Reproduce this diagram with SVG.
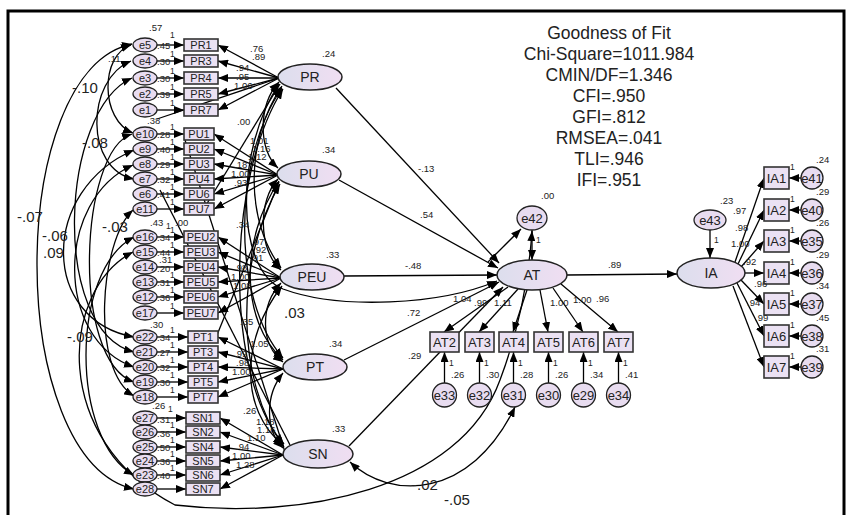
<svg xmlns="http://www.w3.org/2000/svg" width="848" height="515" viewBox="0 0 848 515">
<defs>
<linearGradient id="g" x1="0" y1="0" x2="1" y2="0"><stop offset="0" stop-color="#dcdeed"/><stop offset="1" stop-color="#f0def2"/></linearGradient>
<marker id="ah" viewBox="0 0 10 8" refX="10" refY="4" markerWidth="10" markerHeight="8" markerUnits="userSpaceOnUse" orient="auto-start-reverse"><path d="M0,0 L10,4 L0,8 z" fill="#000"/></marker>
<style>
.c{fill:none;stroke:#000;stroke-width:1.3}
.l{fill:none;stroke:#000;stroke-width:1.3;marker-end:url(#ah)}
.d{fill:none;stroke:#000;stroke-width:1.3;marker-start:url(#ah);marker-end:url(#ah)}
.box{fill:#ebe1f3;stroke:#333;stroke-width:1.6}
.lat{fill:url(#g);stroke:#222;stroke-width:1.5}
.err{fill:#e8dcf0;stroke:#222;stroke-width:1.3}
text{font-family:"Liberation Sans",Arial,sans-serif;fill:#222}
.s{font-size:11px;text-anchor:middle}
.n{font-size:9.5px}
.o{font-size:8.5px}
.m{font-size:14px;text-anchor:middle}
.b{font-size:15px}
.fit{font-size:17.5px;text-anchor:middle}
</style>
</defs>
<rect x="8" y="11" width="836" height="520" fill="#fff" stroke="#000" stroke-width="3"/>

<g id="connectors">
<path class="d" d="M131,45 C100,55 100,120 133,133"/>
<path class="d" d="M131,61 C85,80 85,170 134,179"/>
<path class="d" d="M132,78 C60,110 50,330 134,352"/>
<path class="d" d="M132,44 C5,70 5,460 134,489"/>
<path class="d" d="M132,134 C80,150 70,360 134,382"/>
<path class="d" d="M134,150 C40,190 40,320 134,337"/>
<path class="d" d="M133,165 C55,200 55,340 134,367"/>
<path class="d" d="M133,210 C100,240 90,370 134,396"/>
<path class="d" d="M134,237 C70,270 70,440 134,475"/>
<path class="d" d="M133,252 C60,290 50,440 175,505 C300,520 460,490 500,380 C515,340 528,290 532,231"/>
<path class="c" d="M279,78 L157,119"/>
<path class="c" d="M280,84 L200,215"/>
<path class="c" d="M160,190 L290,445"/>
<path class="c" d="M185,140 L285,452"/>
<path class="c" d="M279,182 L215,340"/>
<path class="d" d="M279,82 C258,105 258,150 278,168"/>
<path class="d" d="M278,179 C258,200 258,250 281,270"/>
<path class="d" d="M281,283 C260,305 260,345 283,362"/>
<path class="d" d="M283,373 C265,395 265,430 283,448"/>
<path class="d" d="M282,86 C245,140 245,220 281,268"/>
<path class="d" d="M279,181 C240,240 240,320 283,360"/>
<path class="d" d="M282,286 C240,340 240,410 283,445"/>
<path class="d" d="M282,88 C232,160 232,300 283,358"/>
<path class="d" d="M283,89 C225,180 225,380 284,444"/>
<path class="d" d="M280,184 C235,260 235,380 284,447"/>
<path class="d" d="M279,84 C235,150 235,270 283,289 C340,310 440,305 497,281"/>
<path class="l" d="M157,45 H184"/><path class="l" d="M157,61 H184"/><path class="l" d="M157,78 H184"/><path class="l" d="M157,94 H184"/><path class="l" d="M157,110 H184"/>
<path class="l" d="M157,134 H184"/><path class="l" d="M157,149 H184"/><path class="l" d="M157,164 H184"/><path class="l" d="M157,179 H184"/><path class="l" d="M157,194 H184"/><path class="l" d="M157,209 H184"/>
<path class="l" d="M157,237 H184"/><path class="l" d="M157,252 H184"/><path class="l" d="M157,267 H184"/><path class="l" d="M157,282 H184"/><path class="l" d="M157,297 H184"/><path class="l" d="M157,313 H184"/>
<path class="l" d="M157,337 H188"/><path class="l" d="M157,352 H188"/><path class="l" d="M157,367 H188"/><path class="l" d="M157,382 H188"/><path class="l" d="M157,397 H188"/>
<path class="l" d="M157,418 H186"/><path class="l" d="M157,432 H186"/><path class="l" d="M157,447 H186"/><path class="l" d="M157,461 H186"/><path class="l" d="M157,475 H186"/><path class="l" d="M157,489 H186"/>
<path class="l" d="M279,78 L218,45"/><path class="l" d="M279,78 L218,61"/><path class="l" d="M279,78 L218,78"/><path class="l" d="M279,78 L218,94"/><path class="l" d="M279,78 L218,110"/>
<path class="l" d="M278,175 L214,134"/><path class="l" d="M278,175 L214,149"/><path class="l" d="M278,175 L214,164"/><path class="l" d="M278,175 L214,179"/><path class="l" d="M278,175 L214,194"/><path class="l" d="M278,175 L214,209"/>
<path class="l" d="M281,278 L218,237"/><path class="l" d="M281,278 L218,252"/><path class="l" d="M281,278 L218,267"/><path class="l" d="M281,278 L218,282"/><path class="l" d="M281,278 L218,297"/><path class="l" d="M281,278 L218,313"/>
<path class="l" d="M283,369 L218,337"/><path class="l" d="M283,369 L218,352"/><path class="l" d="M283,369 L218,367"/><path class="l" d="M283,369 L218,382"/><path class="l" d="M283,369 L218,397"/>
<path class="l" d="M283,455 L220,418"/><path class="l" d="M283,455 L220,432"/><path class="l" d="M283,455 L220,447"/><path class="l" d="M283,455 L220,461"/><path class="l" d="M283,455 L220,475"/><path class="l" d="M283,455 L220,489"/>
<path class="l" d="M336,88 L499,263"/>
<path class="l" d="M339,180 L498,268"/>
<path class="l" d="M344,276 L497,275"/>
<path class="l" d="M344,360 L499,282"/>
<path class="l" d="M349,446 L503,287"/>
<path class="l" d="M532,230 L532,260"/>
<path class="l" d="M488,262 L521,229"/>
<path class="l" d="M567,275 L677,274"/>
<path class="l" d="M710,230 L710,258"/>
<path class="d" d="M350,462 C390,500 470,500 515,407"/>
<path class="l" d="M508,287 L444,332"/><path class="l" d="M518,289 L479,332"/><path class="l" d="M527,290 L513,332"/><path class="l" d="M540,290 L548,332"/><path class="l" d="M553,288 L583,332"/><path class="l" d="M561,284 L618,332"/>
<path class="l" d="M444.5,383 V352"/><path class="l" d="M479.5,383 V352"/><path class="l" d="M513.5,383 V352"/><path class="l" d="M548.5,383 V352"/><path class="l" d="M583.5,383 V352"/><path class="l" d="M618.5,383 V352"/>
<path class="l" d="M735,262 L764,178"/><path class="l" d="M738,264 L764,210"/><path class="l" d="M741,267 L764,241"/><path class="l" d="M745,273 L764,273"/><path class="l" d="M741,280 L764,304"/><path class="l" d="M737,283 L764,336"/><path class="l" d="M733,286 L764,367"/>
<path class="l" d="M801,178 H789"/><path class="l" d="M801,210 H789"/><path class="l" d="M801,241 H789"/><path class="l" d="M801,273 H789"/><path class="l" d="M801,304 H789"/><path class="l" d="M801,336 H789"/><path class="l" d="M801,367 H789"/>
</g>

<g id="labels-behind">
<text class="n" x="747" y="306">.94</text>
</g>

<g id="e5"><ellipse class="err" cx="145" cy="45" rx="12" ry="7"/><text class="s" x="145" y="49">e5</text></g>
<g id="e4"><ellipse class="err" cx="145" cy="61" rx="12" ry="7"/><text class="s" x="145" y="65">e4</text></g>
<g id="e3"><ellipse class="err" cx="145" cy="78" rx="12" ry="7"/><text class="s" x="145" y="82">e3</text></g>
<g id="e2"><ellipse class="err" cx="145" cy="94" rx="12" ry="7"/><text class="s" x="145" y="98">e2</text></g>
<g id="e1"><ellipse class="err" cx="145" cy="110" rx="12" ry="7"/><text class="s" x="145" y="114">e1</text></g>
<g id="e10"><ellipse class="err" cx="145" cy="134" rx="12" ry="7"/><text class="s" x="145" y="138">e10</text></g>
<g id="e9"><ellipse class="err" cx="145" cy="149" rx="12" ry="7"/><text class="s" x="145" y="153">e9</text></g>
<g id="e8"><ellipse class="err" cx="145" cy="164" rx="12" ry="7"/><text class="s" x="145" y="168">e8</text></g>
<g id="e7"><ellipse class="err" cx="145" cy="179" rx="12" ry="7"/><text class="s" x="145" y="183">e7</text></g>
<g id="e6"><ellipse class="err" cx="145" cy="194" rx="12" ry="7"/><text class="s" x="145" y="198">e6</text></g>
<g id="e11"><ellipse class="err" cx="145" cy="209" rx="12" ry="7"/><text class="s" x="145" y="213">e11</text></g>
<g id="e16"><ellipse class="err" cx="145" cy="237" rx="12" ry="7"/><text class="s" x="145" y="241">e16</text></g>
<g id="e15"><ellipse class="err" cx="145" cy="252" rx="12" ry="7"/><text class="s" x="145" y="256">e15</text></g>
<g id="e14"><ellipse class="err" cx="145" cy="267" rx="12" ry="7"/><text class="s" x="145" y="271">e14</text></g>
<g id="e13"><ellipse class="err" cx="145" cy="282" rx="12" ry="7"/><text class="s" x="145" y="286">e13</text></g>
<g id="e12"><ellipse class="err" cx="145" cy="297" rx="12" ry="7"/><text class="s" x="145" y="301">e12</text></g>
<g id="e17"><ellipse class="err" cx="145" cy="313" rx="12" ry="7"/><text class="s" x="145" y="317">e17</text></g>
<g id="e22"><ellipse class="err" cx="145" cy="337" rx="12" ry="7"/><text class="s" x="145" y="341">e22</text></g>
<g id="e21"><ellipse class="err" cx="145" cy="352" rx="12" ry="7"/><text class="s" x="145" y="356">e21</text></g>
<g id="e20"><ellipse class="err" cx="145" cy="367" rx="12" ry="7"/><text class="s" x="145" y="371">e20</text></g>
<g id="e19"><ellipse class="err" cx="145" cy="382" rx="12" ry="7"/><text class="s" x="145" y="386">e19</text></g>
<g id="e18"><ellipse class="err" cx="145" cy="397" rx="12" ry="7"/><text class="s" x="145" y="401">e18</text></g>
<g id="e27"><ellipse class="err" cx="145" cy="418" rx="12" ry="7"/><text class="s" x="145" y="422">e27</text></g>
<g id="e26"><ellipse class="err" cx="145" cy="432" rx="12" ry="7"/><text class="s" x="145" y="436">e26</text></g>
<g id="e25"><ellipse class="err" cx="145" cy="447" rx="12" ry="7"/><text class="s" x="145" y="451">e25</text></g>
<g id="e24"><ellipse class="err" cx="145" cy="461" rx="12" ry="7"/><text class="s" x="145" y="465">e24</text></g>
<g id="e23"><ellipse class="err" cx="145" cy="475" rx="12" ry="7"/><text class="s" x="145" y="479">e23</text></g>
<g id="e28"><ellipse class="err" cx="145" cy="489" rx="12" ry="7"/><text class="s" x="145" y="493">e28</text></g>

<g id="PR1"><rect class="box" x="184" y="39" width="34" height="12"/><text class="s" x="201" y="49">PR1</text></g>
<g id="PR3"><rect class="box" x="184" y="55" width="34" height="12"/><text class="s" x="201" y="65">PR3</text></g>
<g id="PR4"><rect class="box" x="184" y="72" width="34" height="12"/><text class="s" x="201" y="82">PR4</text></g>
<g id="PR5"><rect class="box" x="184" y="88" width="34" height="12"/><text class="s" x="201" y="98">PR5</text></g>
<g id="PR7"><rect class="box" x="184" y="104" width="34" height="12"/><text class="s" x="201" y="114">PR7</text></g>
<g id="PU1"><rect class="box" x="184" y="128" width="30" height="12"/><text class="s" x="199" y="138">PU1</text></g>
<g id="PU2"><rect class="box" x="184" y="143" width="30" height="12"/><text class="s" x="199" y="153">PU2</text></g>
<g id="PU3"><rect class="box" x="184" y="158" width="30" height="12"/><text class="s" x="199" y="168">PU3</text></g>
<g id="PU4"><rect class="box" x="184" y="173" width="30" height="12"/><text class="s" x="199" y="183">PU4</text></g>
<g id="PU6"><rect class="box" x="184" y="188" width="30" height="12"/><text class="s" x="199" y="198">PU6</text></g>
<g id="PU7"><rect class="box" x="184" y="203" width="30" height="12"/><text class="s" x="199" y="213">PU7</text></g>
<g id="PEU2"><rect class="box" x="184" y="231" width="34" height="12"/><text class="s" x="201" y="241">PEU2</text></g>
<g id="PEU3"><rect class="box" x="184" y="246" width="34" height="12"/><text class="s" x="201" y="256">PEU3</text></g>
<g id="PEU4"><rect class="box" x="184" y="261" width="34" height="12"/><text class="s" x="201" y="271">PEU4</text></g>
<g id="PEU5"><rect class="box" x="184" y="276" width="34" height="12"/><text class="s" x="201" y="286">PEU5</text></g>
<g id="PEU6"><rect class="box" x="184" y="291" width="34" height="12"/><text class="s" x="201" y="301">PEU6</text></g>
<g id="PEU7"><rect class="box" x="184" y="307" width="34" height="12"/><text class="s" x="201" y="317">PEU7</text></g>
<g id="PT1"><rect class="box" x="188" y="331" width="30" height="12"/><text class="s" x="203" y="341">PT1</text></g>
<g id="PT3"><rect class="box" x="188" y="346" width="30" height="12"/><text class="s" x="203" y="356">PT3</text></g>
<g id="PT4"><rect class="box" x="188" y="361" width="30" height="12"/><text class="s" x="203" y="371">PT4</text></g>
<g id="PT5"><rect class="box" x="188" y="376" width="30" height="12"/><text class="s" x="203" y="386">PT5</text></g>
<g id="PT7"><rect class="box" x="188" y="391" width="30" height="12"/><text class="s" x="203" y="401">PT7</text></g>
<g id="SN1"><rect class="box" x="186" y="412" width="34" height="12"/><text class="s" x="203" y="422">SN1</text></g>
<g id="SN2"><rect class="box" x="186" y="426" width="34" height="12"/><text class="s" x="203" y="436">SN2</text></g>
<g id="SN4"><rect class="box" x="186" y="441" width="34" height="12"/><text class="s" x="203" y="451">SN4</text></g>
<g id="SN5"><rect class="box" x="186" y="455" width="34" height="12"/><text class="s" x="203" y="465">SN5</text></g>
<g id="SN6"><rect class="box" x="186" y="469" width="34" height="12"/><text class="s" x="203" y="479">SN6</text></g>
<g id="SN7"><rect class="box" x="186" y="483" width="34" height="12"/><text class="s" x="203" y="493">SN7</text></g>

<g id="PR"><ellipse class="lat" cx="310" cy="77" rx="32" ry="13"/><text class="m" x="310" y="82">PR</text></g>
<g id="PU"><ellipse class="lat" cx="309" cy="174" rx="32" ry="13"/><text class="m" x="309" y="179">PU</text></g>
<g id="PEU"><ellipse class="lat" cx="312" cy="277" rx="32" ry="13"/><text class="m" x="312" y="282">PEU</text></g>
<g id="PT"><ellipse class="lat" cx="315" cy="367" rx="32" ry="13"/><text class="m" x="315" y="372">PT</text></g>
<g id="SN"><ellipse class="lat" cx="318" cy="454" rx="35" ry="14"/><text class="m" x="318" y="459">SN</text></g>
<g id="AT"><ellipse class="lat" cx="532" cy="275" rx="35" ry="15"/><text class="m" x="532" y="280">AT</text></g>
<g id="e42"><ellipse class="err" cx="532" cy="218" rx="15" ry="12"/><text class="m" x="532" y="223" style="font-size:13px">e42</text></g>
<g id="IA"><ellipse class="lat" cx="711" cy="273" rx="34" ry="15"/><text class="m" x="711" y="278">IA</text></g>
<g id="e43"><ellipse class="err" cx="710" cy="220" rx="16" ry="10"/><text class="m" x="710" y="225" style="font-size:13px">e43</text></g>

<g id="AT2"><rect class="box" x="430" y="332" width="29" height="20"/><text class="m" x="444.5" y="347" style="font-size:13px">AT2</text></g>
<g id="AT3"><rect class="box" x="465" y="332" width="29" height="20"/><text class="m" x="479.5" y="347" style="font-size:13px">AT3</text></g>
<g id="AT4"><rect class="box" x="499" y="332" width="29" height="20"/><text class="m" x="513.5" y="347" style="font-size:13px">AT4</text></g>
<g id="AT5"><rect class="box" x="534" y="332" width="29" height="20"/><text class="m" x="548.5" y="347" style="font-size:13px">AT5</text></g>
<g id="AT6"><rect class="box" x="569" y="332" width="29" height="20"/><text class="m" x="583.5" y="347" style="font-size:13px">AT6</text></g>
<g id="AT7"><rect class="box" x="604" y="332" width="29" height="20"/><text class="m" x="618.5" y="347" style="font-size:13px">AT7</text></g>
<g id="e33"><circle class="err" cx="444.5" cy="395" r="12"/><text class="m" x="444.5" y="400" style="font-size:13px">e33</text></g>
<g id="e32"><circle class="err" cx="479.5" cy="395" r="12"/><text class="m" x="479.5" y="400" style="font-size:13px">e32</text></g>
<g id="e31"><circle class="err" cx="513.5" cy="395" r="12"/><text class="m" x="513.5" y="400" style="font-size:13px">e31</text></g>
<g id="e30"><circle class="err" cx="548.5" cy="395" r="12"/><text class="m" x="548.5" y="400" style="font-size:13px">e30</text></g>
<g id="e29"><circle class="err" cx="583.5" cy="395" r="12"/><text class="m" x="583.5" y="400" style="font-size:13px">e29</text></g>
<g id="e34"><circle class="err" cx="618.5" cy="395" r="12"/><text class="m" x="618.5" y="400" style="font-size:13px">e34</text></g>

<g id="IA1"><rect class="box" x="764" y="167" width="25" height="22"/><text class="m" x="776.5" y="183" style="font-size:13px">IA1</text></g>
<g id="IA2"><rect class="box" x="764" y="199" width="25" height="22"/><text class="m" x="776.5" y="215" style="font-size:13px">IA2</text></g>
<g id="IA3"><rect class="box" x="764" y="230" width="25" height="22"/><text class="m" x="776.5" y="246" style="font-size:13px">IA3</text></g>
<g id="IA4"><rect class="box" x="764" y="262" width="25" height="22"/><text class="m" x="776.5" y="278" style="font-size:13px">IA4</text></g>
<g id="IA5"><rect class="box" x="764" y="293" width="25" height="22"/><text class="m" x="776.5" y="309" style="font-size:13px">IA5</text></g>
<g id="IA6"><rect class="box" x="764" y="325" width="25" height="22"/><text class="m" x="776.5" y="341" style="font-size:13px">IA6</text></g>
<g id="IA7"><rect class="box" x="764" y="356" width="25" height="22"/><text class="m" x="776.5" y="372" style="font-size:13px">IA7</text></g>
<g id="e41"><circle class="err" cx="812" cy="178" r="11"/><text class="m" x="812" y="183" style="font-size:13px">e41</text></g>
<g id="e40"><circle class="err" cx="812" cy="210" r="11"/><text class="m" x="812" y="215" style="font-size:13px">e40</text></g>
<g id="e35"><circle class="err" cx="812" cy="241" r="11"/><text class="m" x="812" y="246" style="font-size:13px">e35</text></g>
<g id="e36"><circle class="err" cx="812" cy="273" r="11"/><text class="m" x="812" y="278" style="font-size:13px">e36</text></g>
<g id="e37"><circle class="err" cx="812" cy="304" r="11"/><text class="m" x="812" y="309" style="font-size:13px">e37</text></g>
<g id="e38"><circle class="err" cx="812" cy="336" r="11"/><text class="m" x="812" y="341" style="font-size:13px">e38</text></g>
<g id="e39"><circle class="err" cx="812" cy="367" r="11"/><text class="m" x="812" y="372" style="font-size:13px">e39</text></g>

<g id="labels">
<text class="fit" x="609" y="39">Goodness of Fit</text>
<text class="fit" x="609" y="60">Chi-Square=1011.984</text>
<text class="fit" x="609" y="81">CMIN/DF=1.346</text>
<text class="fit" x="609" y="102">CFI=.950</text>
<text class="fit" x="609" y="123">GFI=.812</text>
<text class="fit" x="609" y="144">RMSEA=.041</text>
<text class="fit" x="609" y="165">TLI=.946</text>
<text class="fit" x="609" y="186">IFI=.951</text>
<text class="b" x="72" y="93">-.10</text>
<text class="b" x="82" y="148">-.08</text>
<text class="b" x="17" y="222">-.07</text>
<text class="b" x="102" y="232">-.03</text>
<text class="b" x="42" y="241">-.06</text>
<text class="b" x="43" y="258">.09</text>
<text class="b" x="67" y="342">-.09</text>
<text class="b" x="284" y="318">.03</text>
<text class="b" x="412" y="490">-.02</text>
<text class="b" x="444" y="505">-.05</text>
<text class="n" x="108" y="62">.11</text>
<text class="n" x="149" y="31">.57</text>
<text class="o" x="170" y="38">1</text><text class="n" x="157" y="49">.45</text>
<text class="o" x="170" y="57">1</text><text class="n" x="157" y="65">.30</text>
<text class="o" x="170" y="74">1</text><text class="n" x="157" y="82">.30</text>
<text class="o" x="170" y="90">1</text><text class="n" x="157" y="98">.39</text>
<text class="o" x="170" y="106">1</text><text class="n" x="147" y="124">.38</text>
<text class="o" x="170" y="130">1</text><text class="n" x="157" y="138">.28</text>
<text class="o" x="170" y="145">1</text><text class="n" x="157" y="153">.40</text>
<text class="o" x="170" y="160">1</text><text class="n" x="157" y="168">.29</text>
<text class="o" x="170" y="175">1</text><text class="n" x="157" y="183">.32</text>
<text class="o" x="170" y="190">1</text><text class="n" x="157" y="198">.41</text>
<text class="o" x="170" y="205">1</text>
<text class="n" x="150" y="226">.43</text><text class="o" x="166" y="229">1</text><text class="n" x="175" y="226">.00</text>
<text class="o" x="170" y="233">1</text><text class="n" x="157" y="241">.34</text>
<text class="o" x="170" y="248">1</text><text class="n" x="157" y="256">.44</text>
<text class="n" x="159" y="263">.31</text><text class="n" x="157" y="272">.20</text>
<text class="o" x="170" y="278">1</text><text class="n" x="157" y="286">.31</text>
<text class="o" x="170" y="293">1</text><text class="n" x="157" y="301">.36</text>
<text class="o" x="170" y="309">1</text>
<text class="n" x="150" y="328">.30</text>
<text class="o" x="170" y="333">1</text><text class="n" x="157" y="341">.34</text>
<text class="o" x="170" y="348">1</text><text class="n" x="157" y="356">.27</text>
<text class="o" x="170" y="363">1</text><text class="n" x="157" y="371">.32</text>
<text class="o" x="170" y="378">1</text><text class="n" x="157" y="386">.30</text>
<text class="o" x="170" y="393">1</text>
<text class="n" x="152" y="409">.26</text><text class="o" x="168" y="412">1</text>
<text class="n" x="157" y="423">.31</text>
<text class="o" x="170" y="428">1</text><text class="n" x="157" y="437">.36</text>
<text class="o" x="170" y="443">1</text><text class="n" x="157" y="451">.50</text>
<text class="o" x="170" y="457">1</text><text class="n" x="157" y="465">.36</text>
<text class="o" x="170" y="471">1</text><text class="n" x="157" y="479">.40</text>
<text class="n" x="250" y="52">.76</text><text class="n" x="252" y="60">.89</text>
<text class="n" x="236" y="71">.94</text><text class="n" x="236" y="80">.95</text><text class="n" x="234" y="89">1.06</text>
<text class="n" x="237" y="125">.00</text>
<text class="n" x="250" y="144">1.01</text><text class="n" x="252" y="152">1.16</text><text class="n" x="248" y="160">1.12</text>
<text class="n" x="234" y="168">.18</text><text class="n" x="231" y="177">1.00</text><text class="n" x="234" y="186">.93</text>
<text class="n" x="236" y="228">.34</text>
<text class="n" x="251" y="245">.97</text><text class="n" x="253" y="253">.92</text><text class="n" x="250" y="261">.91</text>
<text class="n" x="234" y="271">.98</text><text class="n" x="231" y="280">1.00</text><text class="n" x="233" y="289">1.08</text>
<text class="n" x="240" y="325">.35</text>
<text class="n" x="250" y="347">1.05</text><text class="n" x="234" y="357">.99</text><text class="n" x="236" y="366">.98</text><text class="n" x="232" y="375">1.00</text>
<text class="n" x="243" y="414">.26</text>
<text class="n" x="256" y="425">1.18</text><text class="n" x="257" y="433">1.16</text><text class="n" x="247" y="441">1.10</text>
<text class="n" x="236" y="450">.94</text><text class="n" x="232" y="459">1.00</text><text class="n" x="236" y="468">1.28</text>
<text class="n" x="322" y="57">.24</text>
<text class="n" x="322" y="153">.34</text>
<text class="n" x="326" y="258">.33</text>
<text class="n" x="329" y="347">.34</text>
<text class="n" x="332" y="432">.33</text>
<text class="n" x="541" y="199">.00</text>
<text class="o" x="536" y="243">1</text>
<text class="n" x="418" y="172">-.13</text>
<text class="n" x="420" y="218">.54</text>
<text class="n" x="405" y="269">-.48</text>
<text class="n" x="407" y="316">.72</text>
<text class="n" x="408" y="359">.29</text>
<text class="n" x="608" y="268">.89</text>
<text class="n" x="453" y="302">1.04</text><text class="n" x="474" y="306">.99</text><text class="n" x="494" y="306">1.11</text>
<text class="n" x="550" y="306">1.00</text><text class="n" x="573" y="303">1.00</text><text class="n" x="596" y="302">.96</text>
<text class="o" x="449" y="366">1</text><text class="n" x="451" y="378">.26</text>
<text class="o" x="484" y="366">1</text><text class="n" x="486" y="378">.30</text>
<text class="o" x="518" y="366">1</text><text class="n" x="520" y="378">.28</text>
<text class="o" x="553" y="366">1</text><text class="n" x="555" y="378">.26</text>
<text class="o" x="588" y="366">1</text><text class="n" x="590" y="378">.34</text>
<text class="o" x="623" y="366">1</text><text class="n" x="625" y="378">.41</text>
<text class="n" x="720" y="204">.23</text>
<text class="o" x="714" y="243">1</text>
<text class="n" x="733" y="214">.97</text><text class="n" x="735" y="231">.98</text><text class="n" x="731" y="247">1.00</text>
<text class="n" x="743" y="265">.92</text><text class="n" x="754" y="287">.96</text><text class="n" x="755" y="321">.99</text>
<text class="o" x="790" y="170">1</text><text class="n" x="816" y="163">.24</text>
<text class="o" x="790" y="202">1</text><text class="n" x="816" y="195">.29</text>
<text class="o" x="790" y="233">1</text><text class="n" x="816" y="226">.26</text>
<text class="o" x="790" y="265">1</text><text class="n" x="816" y="258">.29</text>
<text class="o" x="790" y="296">1</text><text class="n" x="816" y="289">.34</text>
<text class="o" x="790" y="328">1</text><text class="n" x="816" y="321">.45</text>
<text class="o" x="790" y="359">1</text><text class="n" x="816" y="352">.31</text>
</g>
</svg>
